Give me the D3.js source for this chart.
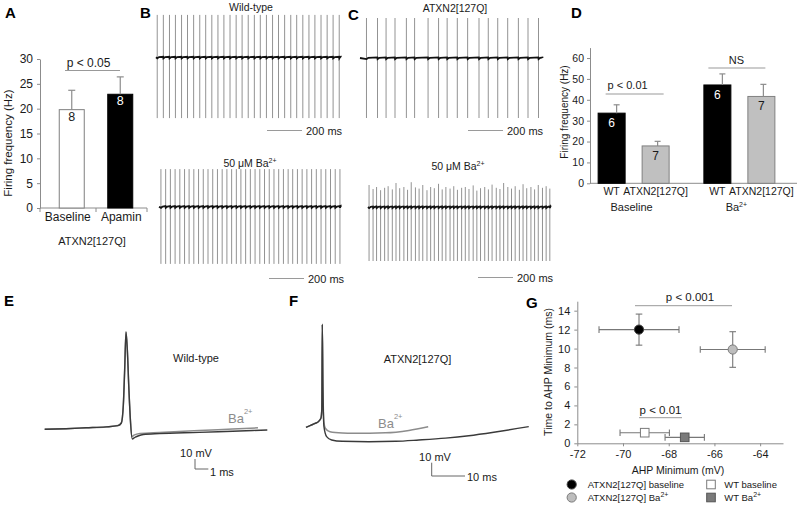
<!DOCTYPE html>
<html><head><meta charset="utf-8">
<script src="https://cdn.jsdelivr.net/npm/d3@7"></script>
<style>
body{margin:0;background:#fff}
svg{display:block;font-family:"Liberation Sans",Arial,sans-serif}
</style></head><body>
<svg id="chart" width="800" height="506"></svg>
<script>
// ================= DATA =================
// Panel A
const aCategories = ["Baseline", "Apamin"];
const aValues = [19.8, 22.9];
const aErrors = [3.9, 3.5];
const aN = ["8", "8"];
const aTicks = [0, 5, 10, 15, 20, 25, 30];

// Panel D
const dGroups = ["Baseline", "Ba"];
const dGenotypes = ["WT", "ATXN2[127Q]"];
const dValues = [33.6, 17.9, 47.1, 41.6];
const dErrors = [4.0, 2.2, 5.3, 5.8];
const dN = ["6", "7", "6", "7"];
const dTicks = [0, 10, 20, 30, 40, 50, 60];

// Panels B, C: spike times (ms) of the firing traces
const spikesWT = [7, 42, 77, 111, 146, 180, 215, 250, 284, 319, 354, 388, 423, 458, 492, 527, 562, 596, 631, 666, 700, 735, 770, 804, 839, 874, 908, 943, 978, 1012, 1047];
const spikesWTBa = [11, 38, 65, 92, 119, 146, 172, 199, 226, 253, 280, 307, 334, 361, 388, 415, 442, 468, 495, 522, 549, 576, 603, 630, 657, 684, 711, 738, 764, 791, 818, 845, 872, 899, 926, 953, 980, 1007, 1034];
const spikesMut = [37, 100, 149, 200, 265, 312, 389, 449, 498, 556, 615, 680, 733, 787, 844, 905, 960, 1020];
const spikesMutBa = [6, 29, 49, 72, 95, 115, 139, 160, 181, 205, 226, 247, 271, 292, 313, 337, 358, 379, 403, 424, 445, 469, 490, 511, 535, 556, 577, 601, 622, 643, 667, 688, 709, 733, 754, 775, 799, 820, 841, 865, 886, 907, 931, 952, 973, 997, 1018, 1039];
const peaksMutBa = [0.55, 0.45, 0.5, 0.42, 0.48, 0.52, 0.44, 0.6, 0.47, 0.5, 0.43, 0.62, 0.49, 0.46, 0.55, 0.42, 0.5, 0.47, 0.58, 0.44, 0.5, 0.46, 0.52, 0.43, 0.48, 0.5, 0.45, 0.54, 0.41, 0.47, 0.5, 0.44, 0.56, 0.48, 0.45, 0.6, 0.5, 0.46, 0.52, 0.43, 0.57, 0.47, 0.5, 0.44, 0.55, 0.48, 0.52, 0.46];
const traceDurations = [1057, 1040, 1044, 1044];
const tracePeaks = [1.06, 0.94, 1.0, 0.5];
const traceTroughs = [-1.52, -1.43, -1.5, -1.35];

// Panels E, F: action potential waveforms [ms, mV]
const eBaseline = [[-6.1,-59.3],[-4.5,-58.7],[-3.0,-57.8],[-1.5,-56.9],[-0.6,-55.6],[-0.35,-53],[-0.2,-35],[-0.1,0],[0,38],[0.1,20],[0.22,-20],[0.33,-50],[0.47,-69],[0.65,-67.5],[0.9,-66],[1.3,-64.5],[2.5,-63.6],[5.5,-62.4],[8,-61.2],[10.6,-60]];
const eBa = [[-6.1,-59.3],[-4.5,-58.7],[-3.0,-57.8],[-1.5,-56.9],[-0.6,-55.6],[-0.35,-53],[-0.2,-35],[-0.1,0],[0,38],[0.1,20],[0.22,-20],[0.33,-50],[0.43,-66.7],[0.6,-65.2],[1.05,-63.5],[2.5,-62.4],[5.5,-60.6],[8,-59],[9.9,-57.8]];
const fBaseline = [[-4.9,-58.5],[-3.5,-57],[-2.2,-55.6],[-1,-53.8],[-0.4,-51.5],[-0.15,-45],[0,19],[0.2,-30],[0.5,-58],[1.3,-65.5],[2.8,-68],[6,-69],[14,-69.3],[22,-69],[29,-68],[37,-66.6],[44,-64.8],[52,-62],[62,-58]];
const fBa = [[-4.9,-58.5],[-3.5,-57],[-2.2,-55.6],[-1,-53.8],[-0.4,-51.5],[-0.15,-45],[0,19],[0.2,-30],[0.5,-55],[0.9,-59.2],[2.3,-61.8],[6,-62.8],[9.3,-63],[19,-62.6],[26,-60.8],[31.8,-58.1]];

// Panel G
const gSeries = ["ATXN2[127Q] baseline", "ATXN2[127Q] Ba", "WT baseline", "WT Ba"];
const gAhpMin = [-69.3, -65.2, -69.05, -67.3];
const gAhpMinErr = [1.75, 1.42, 1.08, 0.86];
const gTime = [12.0, 9.9, 1.12, 0.63];
const gTimeErr = [1.64, 1.88, 0.15, 0.15];
const gXTicks = [-72, -70, -68, -66, -64];
const gYTicks = [0, 2, 4, 6, 8, 10, 12, 14];

// ================= DRAWING =================
const svg = d3.select("#chart");
const AX = "#8c8c8c", TXT = "#1a1a1a", ERR = "#8c8c8c";

function text(g, x, y, s, size, opts = {}) {
  const t = g.append("text").attr("x", x).attr("y", y).attr("font-size", size)
    .attr("fill", opts.fill || TXT).attr("text-anchor", opts.anchor || "start").text(s);
  if (opts.weight) t.attr("font-weight", opts.weight);
  return t;
}
function sup(t, s, size, dy) {
  t.append("tspan").attr("dy", dy).attr("font-size", size).text(s);
}
function styleAxis(g, fs) {
  g.select(".domain").attr("stroke", AX);
  g.selectAll(".tick line").attr("stroke", AX);
  g.selectAll(".tick text").attr("fill", TXT).attr("font-size", fs).attr("font-family", '"Liberation Sans",Arial,sans-serif');
}

// panel letters
[["A",5,18],["B",140,18],["C",348,20],["D",571,18],["E",4,306],["F",289,306],["G",526,308]]
  .forEach(([l,x,y]) => text(svg, x, y, l, 15, {weight: "bold", fill: "#000"}));

// ---------- Panel A ----------
{
  const g = svg.append("g");
  const y = d3.scaleLinear().domain([0, 30]).range([208, 59]);
  const x = d3.scaleBand().domain(aCategories).range([47.5, 144.5]);
  const ax = g.append("g").attr("transform", "translate(40,0)")
    .call(d3.axisLeft(y).tickValues(aTicks).tickSize(3).tickSizeOuter(0).tickPadding(4));
  styleAxis(ax, 12);
  g.append("line").attr("x1", 40).attr("x2", 147).attr("y1", 208).attr("y2", 208).attr("stroke", AX);
  [40, x("Apamin"), 147].forEach(v => g.append("line").attr("x1", v).attr("x2", v).attr("y1", 208).attr("y2", 212).attr("stroke", AX));
  aCategories.forEach((c, i) => {
    const cx = x(c) + x.bandwidth() / 2;
    g.append("rect").attr("x", cx - 12.5).attr("width", 25).attr("y", y(aValues[i])).attr("height", y(0) - y(aValues[i]))
      .attr("fill", i ? "#000" : "#fff").attr("stroke", i ? "#000" : "#7f7f7f");
    g.append("line").attr("x1", cx).attr("x2", cx).attr("y1", y(aValues[i])).attr("y2", y(aValues[i] + aErrors[i])).attr("stroke", ERR).attr("stroke-width", 1.2);
    g.append("line").attr("x1", cx - 3.5).attr("x2", cx + 3.5).attr("y1", y(aValues[i] + aErrors[i])).attr("y2", y(aValues[i] + aErrors[i])).attr("stroke", ERR).attr("stroke-width", 1.2);
    text(g, cx, y(aValues[i]) + 11, aN[i], 12.5, {anchor: "middle", fill: i ? "#fff" : TXT});
    text(g, cx - (i ? -1 : 4), 221, c, 12, {anchor: "middle"});
  });
  g.append("line").attr("x1", 65).attr("x2", 120).attr("y1", 70.5).attr("y2", 70.5).attr("stroke", "#999");
  text(g, 88.5, 66.5, "p < 0.05", 12, {anchor: "middle"});
  text(g, 92, 245, "ATXN2[127Q]", 11, {anchor: "middle"});
  g.append("text").attr("transform", "translate(12,143) rotate(-90)").attr("text-anchor", "middle")
    .attr("font-size", 11.5).attr("fill", TXT).text("Firing frequency (Hz)");
}

// ---------- Panels B, C traces ----------
function drawTrace(spikes, dur, x0, yBase, peak, peaks, trough) {
  const g = svg.append("g");
  const x = d3.scaleLinear().domain([0, 1000]).range([x0, x0 + 175]);
  const y = d3.scaleLinear().domain([0, 1]).range([yBase, yBase - 40]);
  g.selectAll(null).data(spikes).join("line")
    .attr("x1", d => x(d)).attr("x2", d => x(d))
    .attr("y1", (d, i) => y(peaks ? peaks[i] : peak)).attr("y2", y(trough))
    .attr("stroke", "#939393").attr("stroke-width", 1);
  const pts = [[0, 0]];
  spikes.forEach((t, i) => {
    const nxt = i + 1 < spikes.length ? spikes[i + 1] : dur;
    pts.push([t + 0.5, -0.028]);
    pts.push([Math.min(t + 10, (t + nxt) / 2), 0.004]);
    pts.push([Math.min(nxt - 1, dur), 0.014]);
  });
  pts.push([dur, 0]);
  g.append("path").attr("d", d3.line().x(d => x(d[0])).y(d => y(d[1]))(pts))
    .attr("fill", "none").attr("stroke", "#111").attr("stroke-width", 1.8);
  return x;
}
function scaleBar(x, xs, yb) {
  const len = x(200) - x(0);
  svg.append("line").attr("x1", xs).attr("x2", xs + len).attr("y1", yb).attr("y2", yb).attr("stroke", "#9a9a9a");
  text(svg, xs + len + 4, yb + 4, "200 ms", 11);
}
{
  const x1 = drawTrace(spikesWT, traceDurations[0], 156, 57.3, tracePeaks[0], null, traceTroughs[0]);
  scaleBar(x1, 267, 130.5);
  text(svg, 251, 11, "Wild-type", 10.5, {anchor: "middle"});
  const x2 = drawTrace(spikesWTBa, traceDurations[1], 159, 206.7, tracePeaks[1], null, traceTroughs[1]);
  scaleBar(x2, 269, 278.5);
  const t2 = text(svg, 250, 167, "50 μM Ba", 10.5, {anchor: "middle"}); sup(t2, "2+", 7, -4);
  const x3 = drawTrace(spikesMut, traceDurations[2], 360, 58, tracePeaks[2], null, traceTroughs[2]);
  scaleBar(x3, 468, 130.5);
  text(svg, 455, 12, "ATXN2[127Q]", 10.5, {anchor: "middle"});
  const x4 = drawTrace(spikesMutBa, traceDurations[3], 368, 207, tracePeaks[3], peaksMutBa, traceTroughs[3]);
  scaleBar(x4, 478, 277.5);
  const t4 = text(svg, 458, 170, "50 μM Ba", 10.5, {anchor: "middle"}); sup(t4, "2+", 7, -4);
}

// ---------- Panel D ----------
{
  const g = svg.append("g");
  const y = d3.scaleLinear().domain([0, 65]).range([183.3, 47.6]);
  const outer = d3.scaleBand().domain(dGroups).range([580.75, 792.25]);
  const inner = d3.scaleBand().domain(dGenotypes).range([outer.bandwidth() / 2 - 44, outer.bandwidth() / 2 + 44]);
  const ax = g.append("g").attr("transform", "translate(590,0)")
    .call(d3.axisLeft(y).tickValues(dTicks).tickSize(3).tickSizeOuter(0).tickPadding(3));
  styleAxis(ax, 10.5);
  g.append("line").attr("x1", 590).attr("x2", 797).attr("y1", 183.3).attr("y2", 183.3).attr("stroke", AX);
  const cxs = [];
  dGroups.forEach((grp, gi) => dGenotypes.forEach((gen, ki) => {
    const i = gi * 2 + ki;
    const cx = outer(grp) + inner(gen) + inner.bandwidth() / 2;
    cxs.push(cx);
    const v = dValues[i], e = dErrors[i];
    g.append("rect").attr("x", cx - 13.5).attr("width", 27).attr("y", y(v)).attr("height", y(0) - y(v))
      .attr("fill", ki ? "#c0c0c0" : "#000").attr("stroke", ki ? "#808080" : "#000");
    const ex = cx + (ki ? 2 : 5);
    g.append("line").attr("x1", ex).attr("x2", ex).attr("y1", y(v)).attr("y2", y(v + e)).attr("stroke", ERR).attr("stroke-width", 1.2);
    g.append("line").attr("x1", ex - 3).attr("x2", ex + 3).attr("y1", y(v + e)).attr("y2", y(v + e)).attr("stroke", ERR).attr("stroke-width", 1.2);
    text(g, cx, y(v) + 14, dN[i], 12, {anchor: "middle", fill: ki ? TXT : "#fff"});
    text(g, cx, 195, gen, 10.5, {anchor: "middle"});
  }));
  text(g, outer("Baseline") + outer.bandwidth() / 2 - 2, 211, "Baseline", 11, {anchor: "middle"});
  const tb = text(g, outer("Ba") + outer.bandwidth() / 2 - 3, 211, "Ba", 11, {anchor: "middle"}); sup(tb, "2+", 7, -4);
  g.append("line").attr("x1", cxs[0] - 6).attr("x2", cxs[1] + 8).attr("y1", 94).attr("y2", 94).attr("stroke", "#999");
  text(g, cxs[0] + 16, 89, "p < 0.01", 11, {anchor: "middle"});
  g.append("line").attr("x1", cxs[2] - 9).attr("x2", cxs[3] + 4).attr("y1", 68).attr("y2", 68).attr("stroke", "#999");
  text(g, (cxs[2] + cxs[3]) / 2 - 3, 63.5, "NS", 11, {anchor: "middle"});
  g.append("text").attr("transform", "translate(568,112) rotate(-90)").attr("text-anchor", "middle")
    .attr("font-size", 10).attr("fill", TXT).text("Firing frequency (Hz)");
}

// ---------- Panel E ----------
{
  const g = svg.append("g");
  const x = d3.scaleLinear().domain([0, 1]).range([126, 139.33]);
  const y = d3.scaleLinear().domain([-69, -59]).range([439, 429]);
  const line = d3.line().x(d => x(d[0])).y(d => y(d[1])).curve(d3.curveMonotoneX);
  g.append("path").attr("d", line(eBa)).attr("fill", "none").attr("stroke", "#8c8c8c").attr("stroke-width", 1.5);
  g.append("path").attr("d", line(eBaseline)).attr("fill", "none").attr("stroke", "#3a3a3a").attr("stroke-width", 1.4);
  text(g, 196, 362, "Wild-type", 11, {anchor: "middle"});
  const tb = text(g, 228, 423, "Ba", 13, {fill: "#8c8c8c"}); sup(tb, "2+", 7.5, -9);
  const sx = 195, sy = 469;
  g.append("path").attr("d", `M${sx},${sy - (y(-69) - y(-59))}V${sy}H${sx + x(1) - x(0)}`).attr("fill", "none").attr("stroke", "#666");
  text(g, 196, 457, "10 mV", 11, {anchor: "middle"});
  text(g, 210, 476, "1 ms", 11);
}

// ---------- Panel F ----------
{
  const g = svg.append("g");
  const x = d3.scaleLinear().domain([0, 10]).range([322.3, 355.6]);
  const y = d3.scaleLinear().domain([-69.3, -59.3]).range([441.7, 428.4]);
  const line = d3.line().x(d => x(d[0])).y(d => y(d[1])).curve(d3.curveMonotoneX);
  g.append("path").attr("d", line(fBa)).attr("fill", "none").attr("stroke", "#8c8c8c").attr("stroke-width", 1.5);
  g.append("path").attr("d", line(fBaseline)).attr("fill", "none").attr("stroke", "#3a3a3a").attr("stroke-width", 1.4);
  text(g, 417.5, 363, "ATXN2[127Q]", 11, {anchor: "middle"});
  const tb = text(g, 378, 428, "Ba", 13, {fill: "#8c8c8c"}); sup(tb, "2+", 7.5, -9);
  const sx = 431.7, sy = 476;
  g.append("path").attr("d", `M${sx},${sy - (y(-69.3) - y(-59.3))}V${sy}H${sx + x(10) - x(0)}`).attr("fill", "none").attr("stroke", "#666");
  text(g, 435, 461, "10 mV", 11, {anchor: "middle"});
  text(g, 467, 481, "10 ms", 11);
}

// ---------- Panel G ----------
{
  const g = svg.append("g");
  const x = d3.scaleLinear().domain([-72, -63]).range([577.3, 783]);
  const y = d3.scaleLinear().domain([0, 15]).range([443.3, 301.2]);
  const ay = g.append("g").attr("transform", `translate(${x(-72)},0)`)
    .call(d3.axisLeft(y).tickValues(gYTicks).tickSize(3).tickSizeOuter(0).tickPadding(4));
  styleAxis(ay, 11);
  const axb = g.append("g").attr("transform", `translate(0,${y(0)})`)
    .call(d3.axisBottom(x).tickValues(gXTicks).tickSize(3).tickSizeOuter(0).tickPadding(4).tickFormat(d => String(d)));
  styleAxis(axb, 11);
  text(g, 678, 474, "AHP Minimum (mV)", 10.5, {anchor: "middle"});
  g.append("text").attr("transform", "translate(552,372) rotate(-90)").attr("text-anchor", "middle")
    .attr("font-size", 10.5).attr("fill", TXT).text("Time to AHP Minimum (ms)");
  const fills = ["#000", "#bdbdbd", "#fff", "#7a7a7a"];
  const strokes = ["#444", "#7a7a7a", "#7a7a7a", "#555"];
  gSeries.forEach((s, i) => {
    const cx = x(gAhpMin[i]), cy = y(gTime[i]);
    const xl = x(gAhpMin[i] - gAhpMinErr[i]), xr = x(gAhpMin[i] + gAhpMinErr[i]);
    const yt = y(gTime[i] + gTimeErr[i]), ybm = y(gTime[i] - gTimeErr[i]);
    const e = g.append("g").attr("stroke", "#777").attr("stroke-width", 1.1);
    e.append("line").attr("x1", xl).attr("x2", xr).attr("y1", cy).attr("y2", cy);
    e.append("line").attr("x1", xl).attr("x2", xl).attr("y1", cy - 3.3).attr("y2", cy + 3.3);
    e.append("line").attr("x1", xr).attr("x2", xr).attr("y1", cy - 3.3).attr("y2", cy + 3.3);
    e.append("line").attr("x1", cx).attr("x2", cx).attr("y1", yt).attr("y2", ybm);
    e.append("line").attr("x1", cx - 3.3).attr("x2", cx + 3.3).attr("y1", yt).attr("y2", yt);
    e.append("line").attr("x1", cx - 3.3).attr("x2", cx + 3.3).attr("y1", ybm).attr("y2", ybm);
    if (i < 2) g.append("circle").attr("cx", cx).attr("cy", cy).attr("r", 4.6).attr("fill", fills[i]).attr("stroke", strokes[i]);
    else g.append("rect").attr("x", cx - 4.3).attr("y", cy - 4.3).attr("width", 8.6).attr("height", 8.6).attr("fill", fills[i]).attr("stroke", strokes[i]);
  });
  g.append("line").attr("x1", 635).attr("x2", 732).attr("y1", 305.7).attr("y2", 305.7).attr("stroke", "#999");
  text(g, 690, 301, "p < 0.001", 11.5, {anchor: "middle"});
  g.append("line").attr("x1", 639).attr("x2", 682).attr("y1", 417.7).attr("y2", 417.7).attr("stroke", "#999");
  text(g, 660.5, 414, "p < 0.01", 11.5, {anchor: "middle"});
  // legend
  const lp = [[571.7, 484.5, 587.7], [571.7, 497.5, 587.7], [711, 484.5, 724.3], [711, 497.5, 724.3]];
  gSeries.forEach((s, i) => {
    const [mx, my, tx] = lp[i];
    if (i < 2) g.append("circle").attr("cx", mx).attr("cy", my).attr("r", 4.6).attr("fill", fills[i]).attr("stroke", strokes[i]);
    else g.append("rect").attr("x", mx - 4.3).attr("y", my - 4.3).attr("width", 8.6).attr("height", 8.6).attr("fill", fills[i]).attr("stroke", strokes[i]);
    const t = text(g, tx, my + 3.5, s, 9.5);
    if (i % 2 === 1) sup(t, "2+", 7, -4);
  });
}
</script></body></html>
